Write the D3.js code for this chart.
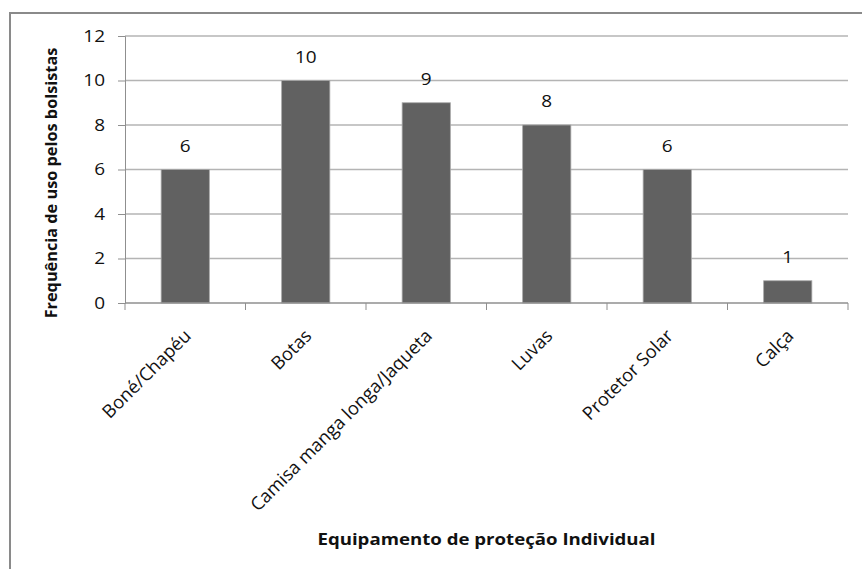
<!DOCTYPE html>
<html>
<head>
<meta charset="utf-8">
<script src="https://cdn.jsdelivr.net/npm/d3@7"></script>
<style>
  body { margin: 0; background: #fff; }
  text { font-family: "Open Sans", sans-serif; fill: #111; }
</style>
</head>
<body>
<svg width="862" height="569"></svg>
<script>
const categories = ["Boné/Chapéu", "Botas", "Camisa manga longa/Jaqueta", "Luvas", "Protetor Solar", "Calça"];
const values = [6, 10, 9, 8, 6, 1];
const yTicks = [0, 2, 4, 6, 8, 10, 12];
const xTitle = "Equipamento de proteção Individual";
const yTitle = "Frequência de uso pelos bolsistas";

const svg = d3.select("svg");
const margin = { top: 36, right: 14, bottom: 266, left: 125 };
const width = 862 - margin.left - margin.right;
const height = 569 - margin.top - margin.bottom;
const stretch = 1.15; // the source picture is a bit wider than tall

// outer chart frame (runs off the right and bottom edge)
svg.append("rect")
    .attr("x", 10).attr("y", 13)
    .attr("width", 900).attr("height", 600)
    .attr("fill", "none")
    .attr("stroke", "#8a8a8a")
    .attr("stroke-width", 2);

const g = svg.append("g")
    .attr("transform", `translate(${margin.left},${margin.top})`);

const x = d3.scaleBand()
    .domain(categories)
    .range([0, width])
    .paddingInner(0.6)
    .paddingOuter(0.3);

const y = d3.scaleLinear()
    .domain([0, 12])
    .range([height, 0]);

// gridlines
g.append("g")
    .selectAll("line")
    .data(yTicks.filter(d => d > 0))
    .enter()
    .append("line")
    .attr("x1", 0).attr("x2", width)
    .attr("y1", d => y(d)).attr("y2", d => y(d))
    .attr("stroke", "#b4b4b4")
    .attr("stroke-width", 1.3);

// y axis
const yAxis = g.append("g")
    .call(d3.axisLeft(y).tickValues(yTicks).tickSize(7).tickPadding(14));
yAxis.select(".domain").attr("stroke", "#8f8f8f");
yAxis.selectAll(".tick line").attr("stroke", "#8f8f8f");
yAxis.selectAll("text")
    .attr("x", 0)
    .attr("transform", `translate(-20,0) scale(${stretch},1)`)
    .style("font-size", "16.5px")
    .style("font-family", "'Open Sans', sans-serif")
    .attr("fill", "#222");

// bars
g.append("g")
    .selectAll("rect")
    .data(values)
    .enter()
    .append("rect")
    .attr("x", (d, i) => x(categories[i]))
    .attr("y", d => y(d))
    .attr("width", x.bandwidth())
    .attr("height", d => height - y(d))
    .attr("fill", "#616161")
    .attr("stroke", "#a8a8a8")
    .attr("stroke-width", 0.8);

// value labels
g.append("g")
    .selectAll("text")
    .data(values)
    .enter()
    .append("text")
    .attr("transform", (d, i) =>
        `translate(${x(categories[i]) + x.bandwidth() / 2},${y(d) - 18}) scale(${stretch},1)`)
    .attr("text-anchor", "middle")
    .style("font-size", "16.5px")
    .text(d => d);

// x axis: line + ticks at category boundaries
const xAxis = g.append("g").attr("transform", `translate(0,${height})`);
xAxis.append("line")
    .attr("x1", 0).attr("x2", width)
    .attr("stroke", "#8f8f8f").attr("stroke-width", 1.3);
xAxis.selectAll(".bound")
    .data(d3.range(categories.length + 1))
    .enter()
    .append("line")
    .attr("class", "bound")
    .attr("x1", i => i * x.step()).attr("x2", i => i * x.step())
    .attr("y1", 0).attr("y2", 7)
    .attr("stroke", "#8f8f8f");

xAxis.selectAll(".lab")
    .data(categories)
    .enter()
    .append("text")
    .attr("class", "lab")
    .attr("text-anchor", "end")
    .attr("transform", d => `translate(${x(d) + x.bandwidth() / 2 + 7},${34}) rotate(-45)`)
    .style("font-size", "18.3px")
    .text(d => d);

// axis titles
svg.append("text")
    .attr("transform", `translate(${margin.left + width / 2},545) scale(1.13,1)`)
    .attr("text-anchor", "middle")
    .style("font-size", "16.5px")
    .style("font-weight", "bold")
    .text(xTitle);

svg.append("text")
    .attr("transform", "translate(57,183) rotate(-90)")
    .attr("text-anchor", "middle")
    .style("font-size", "16.3px")
    .style("font-weight", "bold")
    .text(yTitle);
</script>
</body>
</html>
